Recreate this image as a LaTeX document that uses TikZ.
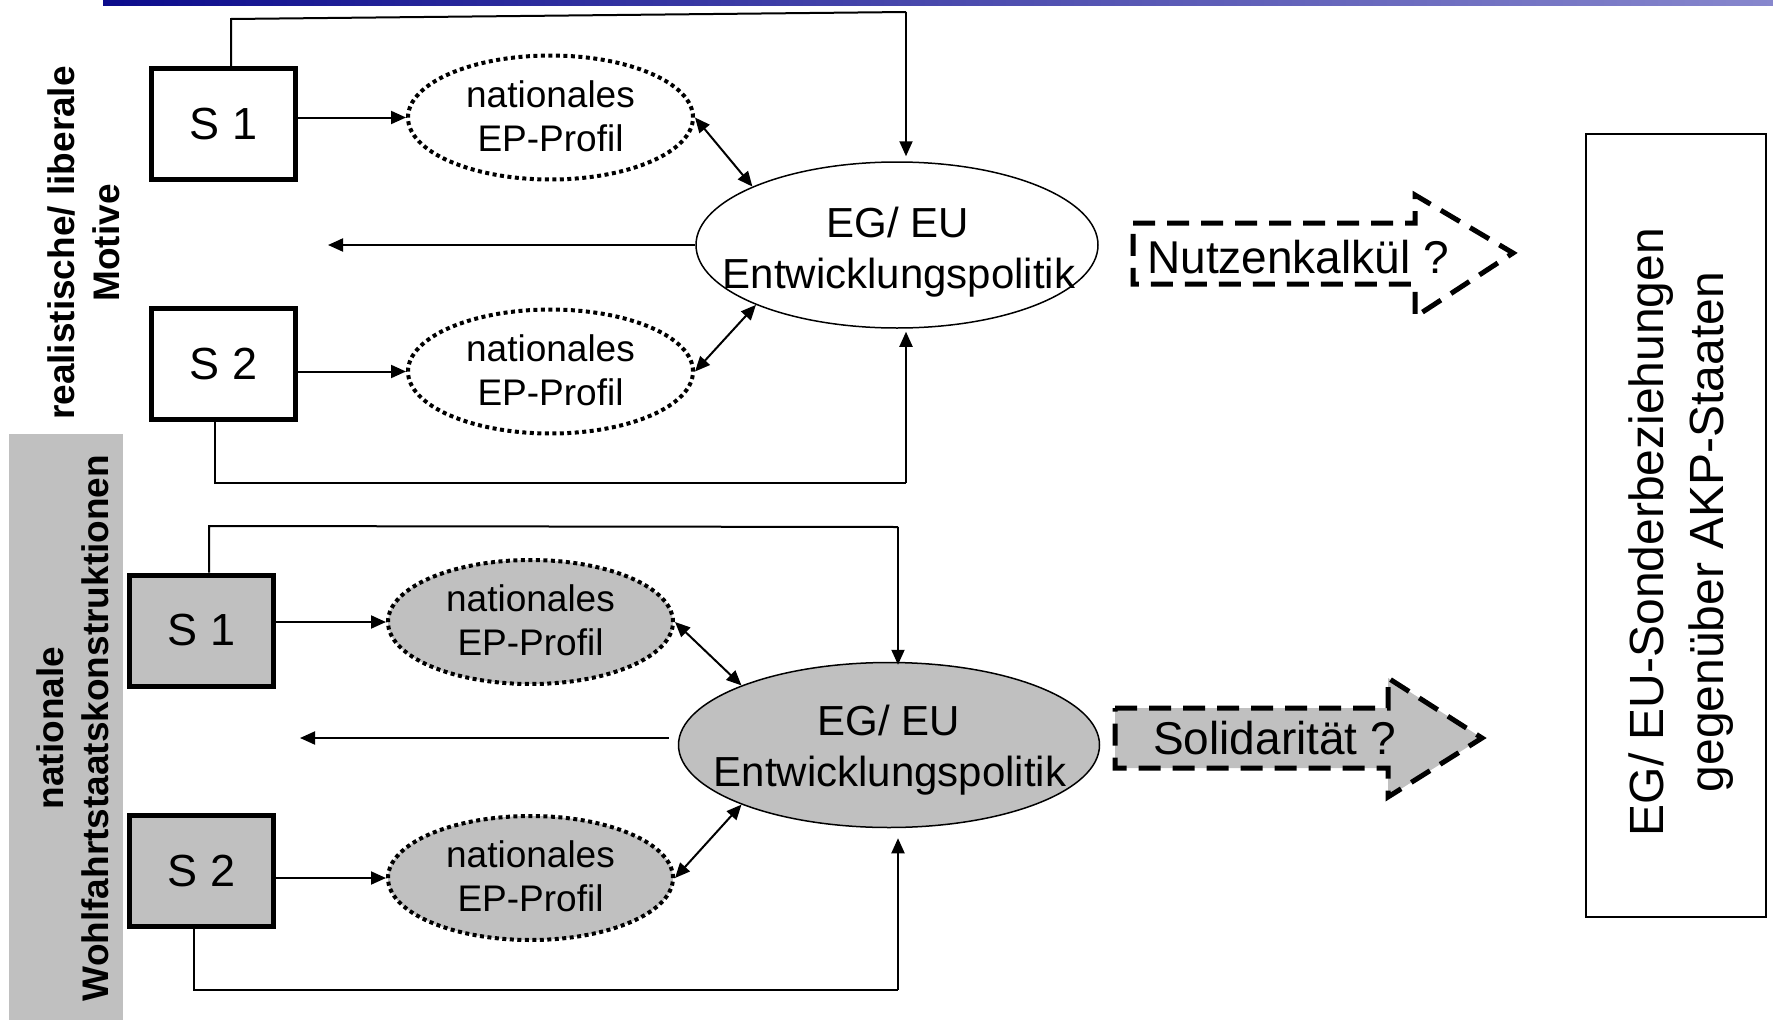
\documentclass[tikz,border=0pt]{standalone}
\usepackage{fontspec}
\setmainfont{Liberation Sans}
\usetikzlibrary{arrows.meta,shapes.geometric,calc}
\definecolor{fillgray}{RGB}{192,192,192}
\definecolor{barL}{RGB}{12,12,140}
\definecolor{barR}{RGB}{135,135,205}
\begin{document}
\begin{tikzpicture}[x=1pt,y=-1pt,
  conn/.style={line width=2pt},
  arr/.style={conn,-{Triangle[length=15pt,width=13pt]}},
  darr/.style={conn,{Triangle[length=15pt,width=13pt]}-{Triangle[length=15pt,width=13pt]}},
  sbox/.style={draw,line width=5pt,minimum width=144pt,minimum height=111pt,inner sep=0,font=\fontsize{45}{54}\selectfont},
  prof/.style={ellipse,draw,line width=4pt,dash pattern=on 4pt off 3.5pt,minimum width=285pt,minimum height=124pt,inner sep=0},
  proftext/.style={align=center,inner sep=0,font=\fontsize{37}{44}\selectfont},
  egell/.style={ellipse,draw,line width=1.5pt,inner sep=0},
  egtext/.style={anchor=base,inner sep=0,font=\fontsize{42}{50}\selectfont},
  sidelbl/.style={rotate=90,align=center,inner sep=0,font=\bfseries\fontsize{37}{45}\selectfont},
  dasharrow/.style={draw,line width=5pt,dash pattern=on 22pt off 12pt,line join=miter},
  bigtext/.style={anchor=base west,inner sep=0,font=\fontsize{46}{55}\selectfont}
]
\useasboundingbox (0,0) rectangle (1773,1020);
% top bar
\shade[left color=barL,right color=barR] (103,0) rectangle (1773,5);

% left labels
\node[sidelbl] (mot) at (84,243) {realistische/ liberale\\Motive};
\fill[fillgray] (9,434) rectangle (123,1020);
\node[sidelbl] (wohl) at (73,728) {nationale\\Wohlfahrtstaatskonstruktionen};

% ===== upper section =====
\node[sbox] (s1) at (223.5,124) {S 1};
\node[sbox] (s2) at (223.5,364) {S 2};
\node[prof] (p1) at (550.5,117.5) {};
\node[prof] (p2) at (550.5,371.5) {};
\node[proftext] (p1t) at (550.5,116) {nationales\\EP-Profil};
\node[proftext] (p2t) at (550.5,370) {nationales\\EP-Profil};
\node[egell,minimum width=402pt,minimum height=166pt] (eg1) at (897,245) {};
\node[egtext] (eg1a) at (898,237) {EG/ EU};
\node[egtext] (eg1b) at (899,288) {Entwicklungspolitik};

\coordinate (c1) at (231,19);
\coordinate (c2) at (906,12);
\coordinate (c3) at (215,483);
\coordinate (c4) at (906,483);
\coordinate (l1) at (328,0);

\draw[conn] (s1.north -| c1) -- (c1) -- (c2);
\draw[arr,shorten >=5pt] (c2) -- (c2 |- eg1.north);
\draw[arr] (s1.east |- p1.west) -- (p1.west);
\draw[arr] (s2.east |- p2.west) -- (p2.west);
\draw[darr] (p1.east) -- (eg1.158);
\draw[darr] (p2.east) -- (eg1.203);
\draw[arr] (eg1.west) -- (eg1.west -| l1);
\draw[conn] (s2.south -| c3) -- (c3) -- (c4);
\draw[arr,shorten >=3pt] (c4) -- (c4 |- eg1.south);

% ===== lower section =====
\node[sbox,fill=fillgray] (s3) at (201.5,630.5) {S 1};
\node[sbox,fill=fillgray] (s4) at (201.5,871) {S 2};
\node[prof,fill=fillgray] (p3) at (530.5,622) {};
\node[prof,fill=fillgray] (p4) at (530.5,878) {};
\node[proftext] (p3t) at (530.5,620.5) {nationales\\EP-Profil};
\node[proftext] (p4t) at (530.5,876.5) {nationales\\EP-Profil};
\node[egell,fill=fillgray,minimum width=421pt,minimum height=165pt] (eg2) at (889,745) {};
\node[egtext] (eg2a) at (889,735) {EG/ EU};
\node[egtext] (eg2b) at (890,786) {Entwicklungspolitik};

\coordinate (c5) at (209,526);
\coordinate (c6) at (898,527);
\coordinate (c7) at (194,990);
\coordinate (c8) at (898,990);
\coordinate (l2) at (300,0);

\draw[conn] (s3.north -| c5) -- (c5) -- (c6);
\draw[arr,shorten >=-3pt] (c6) -- (c6 |- eg2.north);
\draw[arr] (s3.east |- p3.west) -- (p3.west);
\draw[arr] (s4.east |- p4.west) -- (p4.west);
\draw[darr] (p3.east) -- (eg2.158);
\draw[darr] (p4.east) -- (eg2.202);
\draw[arr] ([xshift=-9pt,yshift=7pt]eg2.west) -- ([yshift=7pt]eg2.west -| l2);
\draw[conn] (s4.south -| c7) -- (c7) -- (c8);
\draw[arr,shorten >=10pt] (c8) -- (c8 |- eg2.south);

% ===== block arrows =====
\draw[dasharrow,fill=white] (1133,223) -- (1415,223) -- (1415,195) -- (1513,253) -- (1415,317) -- (1415,284) -- (1133,284) -- cycle;
\node[bigtext] (nk) at (1147,273) {Nutzenkalkül ?};
\draw[dasharrow,fill=fillgray] (1115,708) -- (1388,708) -- (1388,678) -- (1482,738) -- (1388,797) -- (1388,768) -- (1115,768) -- cycle;
\node[bigtext] (sol) at (1153,754) {Solidarität ?};

% ===== right box =====
\node[draw,line width=2pt,minimum width=180pt,minimum height=783pt,inner sep=0] (akp) at (1676,525.5) {};
\node[rotate=90,align=center,inner sep=0,font=\fontsize{48}{60}\selectfont] (akpt) at (1681,532) {EG/ EU-Sonderbeziehungen\\gegenüber AKP-Staaten};
\end{tikzpicture}
\end{document}
